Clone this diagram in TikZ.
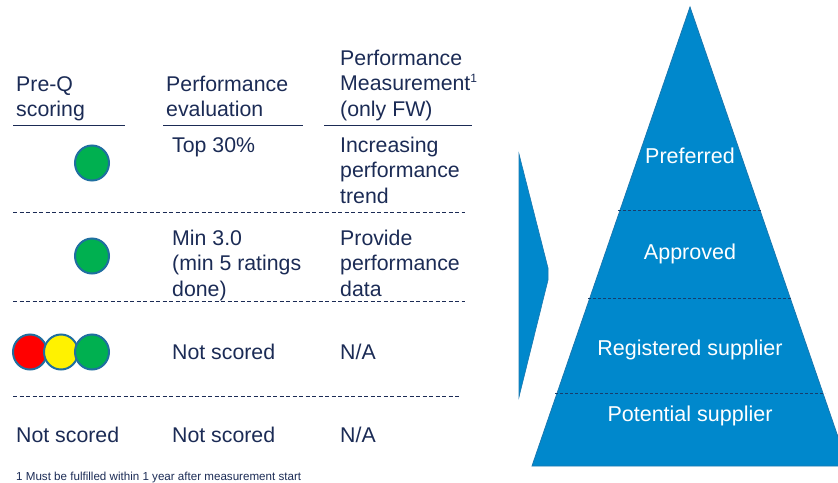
\documentclass[tikz,border=0pt]{standalone}
\usepackage{fontspec}
\usetikzlibrary{shapes.geometric}
\setmainfont{Liberation Sans}
\definecolor{navy}{HTML}{1B2B55}
\definecolor{pyr}{HTML}{0088CC}
\definecolor{pyredge}{HTML}{1A78B0}
\definecolor{ring}{HTML}{1F6FA0}
\definecolor{gr}{HTML}{00B050}
\begin{document}
\begin{tikzpicture}[x=1pt,y=-1pt,
  txt/.style={anchor=base west,inner sep=0pt,align=left,text=navy,font=\fontsize{21.3}{25.5}\selectfont},
  wtxt/.style={text=white,inner sep=0pt,font=\fontsize{21.5}{24}\selectfont},
  dot/.style={ellipse,minimum width=34pt,minimum height=35pt,inner sep=0pt,draw=ring,line width=2pt},
  hline/.style={draw=navy,line width=0.8pt},
  dline/.style={draw=navy,line width=0.8pt,dash pattern=on 4pt off 2.5pt},
  pline/.style={draw=navy!80!pyr,line width=0.8pt,dash pattern=on 3pt off 2pt}]
\useasboundingbox (0,0) rectangle (838,482);
% headers (base anchor = last line baseline)
\node[txt] (h1) at (16,116.5) {Pre-Q\\scoring};
\node[txt] (h2) at (166,116.5) {Performance\\evaluation};
\node[txt] (h3) at (340,116) {Performance\\Measurement\textsuperscript{\fontsize{12}{12}\selectfont 1}\\(only FW)};
\draw[hline] (13,125) -- (125,125);
\draw[hline] (163,125) -- (303,125);
\draw[hline] (324,125) -- (472,125);
% row 1
\node[dot,fill=gr] (c1) at (92,163) {};
\node[txt] (r1b) at (172,152) {Top 30\%};
\node[txt] (r1c) at (340,203) {Increasing\\performance\\trend};
\draw[dline] (13,212) -- (465,212);
% row 2
\node[dot,fill=gr] (c2) at (92,256) {};
\node[txt] (r2b) at (172,296) {Min 3.0\\(min 5 ratings\\done)};
\node[txt] (r2c) at (340,296) {Provide\\performance\\data};
\draw[dline] (13,301) -- (465,301);
% row 3
\node[dot,fill=red] (c3r) at (30,352) {};
\node[dot,fill=yellow] (c3y) at (61,352) {};
\node[dot,fill=gr] (c3g) at (92,352) {};
\node[txt] (r3b) at (172,359) {Not scored};
\node[txt] (r3c) at (340,359) {N/A};
\draw[dline] (13,396) -- (460,396);
% row 4
\node[txt] (r4a) at (16,442) {Not scored};
\node[txt] (r4b) at (172,442) {Not scored};
\node[txt] (r4c) at (340,442) {N/A};
% footnote
\node[anchor=base west,inner sep=0pt,text=navy,font=\fontsize{11.6}{13}\selectfont] (fn) at (16,480.5) {1 Must be fulfilled within 1 year after measurement start};
% arrow
\fill[pyr,draw=pyredge,line width=0.6pt] (519,154) -- (548,268) -- (548,280) -- (519,397) -- cycle;
% pyramid
\begin{scope}
\clip (0,0) rectangle (838,482);
\fill[pyr,draw=pyredge,line width=0.8pt] (690,7) -- (848,466) -- (532,466) -- cycle;
\draw[pline] (618.3,210) -- (761.7,210);
\draw[pline] (588,298) -- (792,298);
\draw[pline] (555,393) -- (825,393);
\end{scope}
\node[wtxt] (p1) at (690,156) {Preferred};
\node[wtxt] (p2) at (690,254) {Approved};
\node[wtxt] (p3) at (690,350) {Registered supplier};
\node[wtxt] (p4) at (690,416) {Potential supplier};
\end{tikzpicture}
\end{document}
